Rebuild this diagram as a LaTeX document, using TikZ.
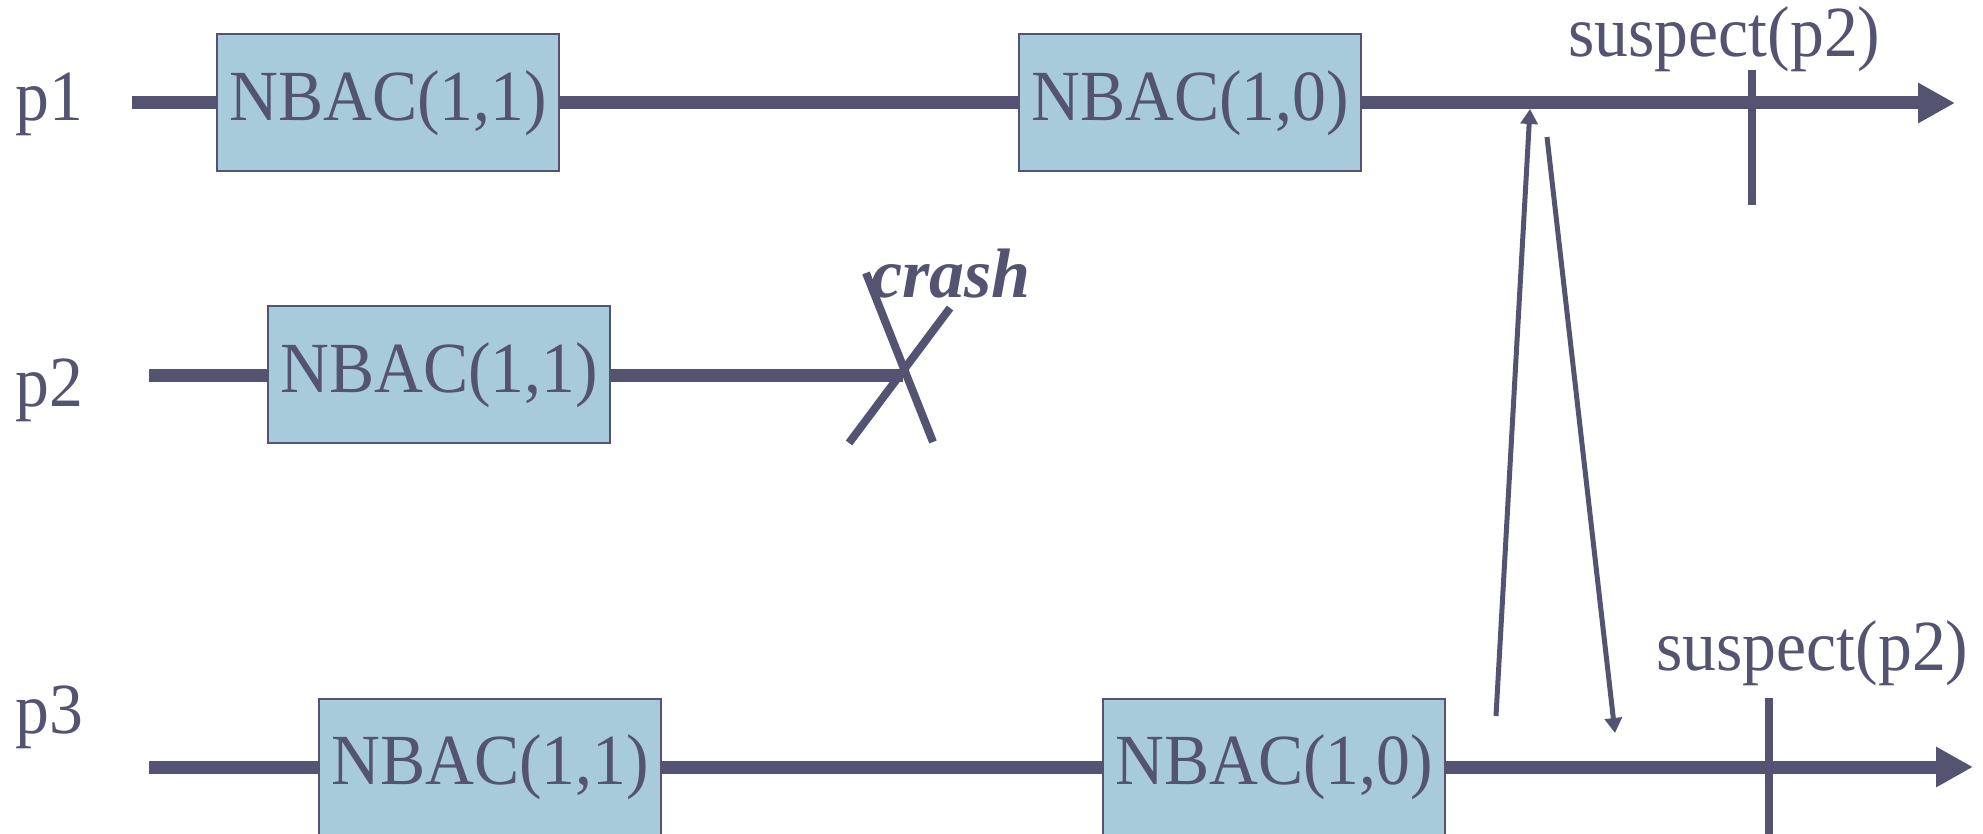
\documentclass[tikz,border=0pt]{standalone}
\usepackage{fontspec}
\setmainfont{Liberation Serif}
\newfontfamily\condserif[FakeStretch=0.94]{Liberation Serif}
\usetikzlibrary{arrows.meta}
\definecolor{ink}{RGB}{84,84,114}
\definecolor{boxfill}{RGB}{167,203,218}
\tikzset{
  nbac/.style={draw=ink, line width=1pt, fill=boxfill, minimum width=171pt, minimum height=68.5pt, inner sep=0pt, text=ink, font=\condserif\fontsize{36}{42}\selectfont},
  lbl/.style={inner sep=0pt, anchor=base west, text=ink, font=\condserif\fontsize{36}{42}\selectfont},
  timeline/.style={draw=ink, line width=6.5pt},
  timearrow/.style={timeline, -{Triangle[length=18.5pt, width=19pt]}},
  tick/.style={draw=ink, line width=4pt},
  crashline/.style={draw=ink, line width=4pt},
  msg/.style={draw=ink, line width=2.5pt, -{Triangle[length=7.5pt, width=8.5pt]}}
}
\begin{document}
\begin{tikzpicture}[x=0.5pt, y=-0.5pt]
\useasboundingbox (0,0) rectangle (1983,834);
\clip (0,0) rectangle (1983,834);
% coordinates
\coordinate (p1s) at (132,103);
\coordinate (p1e) at (1955,103);
\coordinate (p2s) at (149,376);
\coordinate (cx) at (903,376);
\coordinate (p3s) at (149,767);
\coordinate (p3e) at (1973,767);
\coordinate (c1a) at (866,273);
\coordinate (c1b) at (933,442);
\coordinate (c2a) at (849,443);
\coordinate (c2b) at (950,308);
\coordinate (t1a) at (1752,70);
\coordinate (t1b) at (1752,205);
\coordinate (t3a) at (1769,698);
\coordinate (t3b) at (1769,834);
\coordinate (m1s) at (1496,716);
\coordinate (m1e) at (1530,109);
\coordinate (m2s) at (1547,137);
\coordinate (m2e) at (1615,733);
% timelines
\draw[timeline] (p1s) -- (1190,103);
\draw[timearrow] (1190,103) -- (p1e);
\draw[timeline] (p2s) -- (cx);
\draw[timeline] (p3s) -- (1274,767);
\draw[timearrow] (1274,767) -- (p3e);
% boxes
\node[nbac] (a1) at (388,103) {NBAC(1,1)};
\node[nbac] (b1) at (1190,103) {NBAC(1,0)};
\node[nbac] (a2) at (439,375) {NBAC(1,1)};
\node[nbac] (a3) at (490,767) {NBAC(1,1)};
\node[nbac] (b3) at (1274,767) {NBAC(1,0)};
% crash
\draw[crashline] (c1a) -- (c1b);
\draw[crashline] (c2a) -- (c2b);
\node[lbl, font=\fontsize{35}{40}\selectfont\bfseries\itshape] (crash) at (871,298) {crash};
% ticks
\draw[tick] (t1a) -- (t1b);
\draw[tick] (t3a) -- (t3b);
\node[lbl] (s1) at (1568,57) {suspect(p2)};
\node[lbl] (s3) at (1656,670) {suspect(p2)};
% messages
\draw[msg] (m1s) -- (m1e);
\draw[msg] (m2s) -- (m2e);
% process labels
\node[lbl] (l1) at (15,121) {p1};
\node[lbl] (l2) at (15,407) {p2};
\node[lbl] (l3) at (15,733) {p3};
\end{tikzpicture}
\end{document}
